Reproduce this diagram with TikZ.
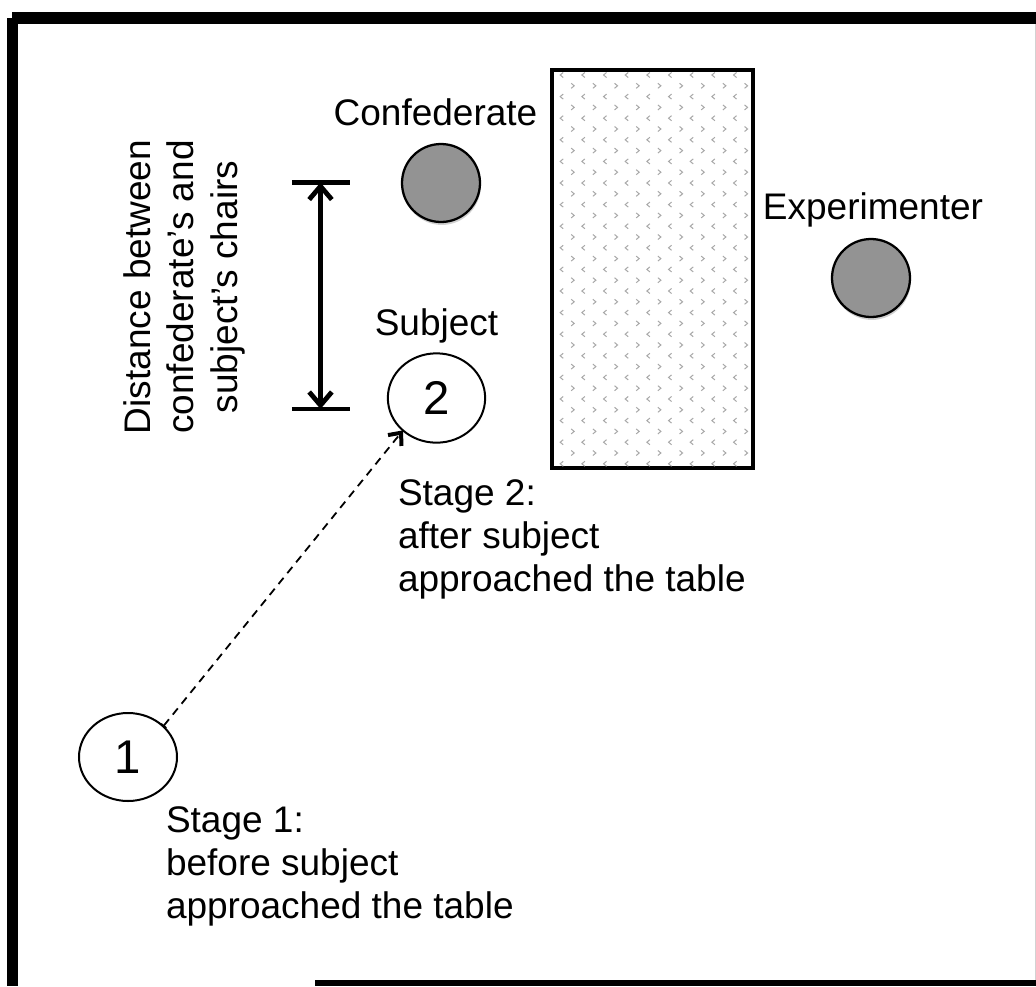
\documentclass[tikz,border=0pt]{standalone}
\usepackage{fontspec}
\setmainfont{Liberation Sans}
\usetikzlibrary{arrows.meta,shapes.geometric,shadows}
\definecolor{personfill}{HTML}{939393}
\definecolor{markgray}{HTML}{A8A8A8}
\begin{document}
\begin{tikzpicture}[x=0.75pt,y=-0.75pt,
  lbl/.style={font=\fontsize{27.75}{32.25}\selectfont, inner sep=0pt, outer sep=0pt},
  softshadow/.style={drop shadow={shadow xshift=0.6pt, shadow yshift=-2.2pt, opacity=0.18, fill=black}},
  person/.style={circle, draw=black, line width=1.7pt, fill=personfill, minimum size=58.5pt, inner sep=0pt, softshadow},
  stage/.style={ellipse, draw=black, line width=1.5pt, fill=white, inner sep=0pt, outer sep=0pt, font=\fontsize{35.5}{40}\selectfont, minimum width=73pt, minimum height=67pt},
  tablebox/.style={draw=black, line width=1.9pt, fill=white, minimum width=149.25pt, minimum height=297pt, inner sep=0pt, softshadow},
  tablemark/.style={draw=markgray, line width=0.75pt},
  framebar/.style={fill=black},
  capbar/.style={draw=black, line width=3.6pt},
  dimarrow/.style={draw=black, line width=3.6pt, {Straight Barb[length=10pt,width=17pt]}-{Straight Barb[length=10pt,width=17pt]}},
  moveline/.style={draw=black, line width=1.35pt, dash pattern=on 6pt off 4.5pt, {Bar[width=5pt,line width=1.2pt]}-{Straight Barb[length=7.5pt,width=13pt,line width=3pt]}},
]
\useasboundingbox (0,0) rectangle (1036,986);
% room frame (cropped)
\fill[framebar] (12,12) rectangle (1036,24);
\fill[framebar] (7,18) rectangle (18,986);
\fill[framebar] (315,980) rectangle (1036,986);
\draw[gray!35, line width=0.75pt] (1035,24) -- (1035,980);

% table
\node[tablebox] (table) at (652.5,269) {};
\begin{scope}
  \clip (table.north west) rectangle (table.south east);
  \foreach \j in {0,...,8}{
    \foreach \k in {0,...,18}{
      \draw[tablemark] ({563.2+21.67*\j},{72.5+21.6*\k}) -- ++(-3,2.5) -- ++(3,2.5);
    }
    \foreach \k in {0,...,17}{
      \draw[tablemark] ({571.2+21.67*\j},{83.3+21.6*\k}) -- ++(3,2.5) -- ++(-3,2.5);
    }
  }
\end{scope}
\draw[line width=1.9pt] (table.north west) rectangle (table.south east);

% people
\node[person] (conf) at (441,183) {};
\node[person] (expr) at (871,278) {};
\node[stage] (s2) at (436.5,398) {2};
\node[stage, minimum width=73.5pt, minimum height=66pt] (s1) at (128,757) {1};

% labels
\node[lbl, anchor=base] (lconf) at (435.5,125) {Confederate};
\node[lbl, anchor=base] (lexp) at (873,219) {Experimenter};
\node[lbl, anchor=base] (lsubj) at (436.5,335) {Subject};
\node[lbl, anchor=base west] (s2l1) at (398,505) {Stage 2:};
\node[lbl, anchor=base west] (s2l2) at (398,548) {after subject};
\node[lbl, anchor=base west] (s2l3) at (398,591) {approached the table};
\node[lbl, anchor=base west] (s1l1) at (166,832) {Stage 1:};
\node[lbl, anchor=base west] (s1l2) at (166,875) {before subject};
\node[lbl, anchor=base west] (s1l3) at (166,918) {approached the table};
\node[lbl, anchor=base, rotate=90] (d1) at (150,287) {Distance between};
\node[lbl, anchor=base, rotate=90] (d2) at (193.5,287) {confederate’s and};
\node[lbl, anchor=base, rotate=90] (d3) at (237,287) {subject’s chairs};

% distance marker
\coordinate (dtop) at (320.5,182.5);
\coordinate (dbot) at (320.5,409);
\draw[capbar] ([xshift=-21.4pt]dtop) -- ([xshift=22.1pt]dtop);
\draw[capbar] ([xshift=-21.4pt]dbot) -- ([xshift=22.1pt]dbot);
\draw[dimarrow] (dtop) -- (dbot);

% movement of the subject
\draw[moveline] (s1.41) -- (s2.224);
\end{tikzpicture}
\end{document}
